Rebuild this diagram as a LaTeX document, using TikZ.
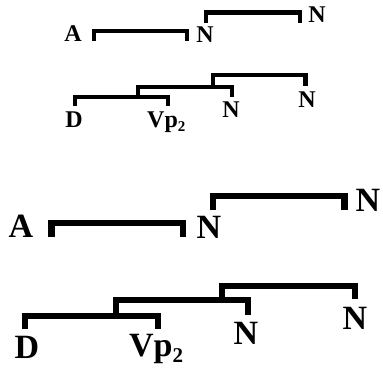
\documentclass[tikz,border=0pt]{standalone}
\usepackage{fontspec}
\setmainfont{Liberation Serif}
\begin{document}
\begin{tikzpicture}[x=1pt,y=-1pt,
  small/.style={inner sep=0pt,anchor=base,font=\fontsize{24}{24}\selectfont\bfseries},
  big/.style={inner sep=0pt,anchor=base,font=\fontsize{34}{34}\selectfont\bfseries},
  thinbr/.style={line width=4.5pt,line join=miter,line cap=butt},
  thickbr/.style={line width=6.5pt,line join=miter,line cap=butt}]
\useasboundingbox[fill=white] (0,0) rectangle (383,372);
% ---------- top, small ----------
\node[small] (a1) at (73,41) {A};
\node[small] (n1) at (205,42) {N};
\node[small] (n2) at (317,23) {N};
\draw[thinbr] (94,41) -- (94,31) -- (187,31) -- (187,41);
\draw[thinbr] (206,23) -- (206,12.5) -- (300,12.5) -- (300,23);
\node[small] (d1) at (74,127) {D};
\node[small,anchor=base west] (v1) at (147,127) {Vp\raisebox{-4pt}{\fontsize{15}{15}\selectfont 2}};
\node[small] (n3) at (231,117) {N};
\node[small] (n4) at (307,107) {N};
\draw[thinbr] (75,106) -- (75,97) -- (168,97) -- (168,106);
\draw[thinbr] (138,97) -- (138,87) -- (232,87) -- (232,97);
\draw[thinbr] (213,87) -- (213,75) -- (305.5,75) -- (305.5,86);
% ---------- bottom, big ----------
\node[big] (a2) at (21,237) {A};
\node[big] (n5) at (209,238) {N};
\node[big] (n6) at (368,211) {N};
\draw[thickbr] (51.5,237) -- (51.5,223) -- (183,223) -- (183,237);
\draw[thickbr] (213,210) -- (213,196) -- (344.5,196) -- (344.5,210);
\node[big] (d2) at (27,358) {D};
\node[big,anchor=base west] (v2) at (129,356) {Vp\raisebox{-6pt}{\fontsize{21}{21}\selectfont 2}};
\node[big] (n7) at (246,344) {N};
\node[big] (n8) at (355,329) {N};
\draw[thickbr] (25,329) -- (25,316) -- (158,316) -- (158,329);
\draw[thickbr] (116,316) -- (116,300) -- (248,300) -- (248,315);
\draw[thickbr] (222,300) -- (222,286) -- (355,286) -- (355,299);
\end{tikzpicture}
\end{document}
